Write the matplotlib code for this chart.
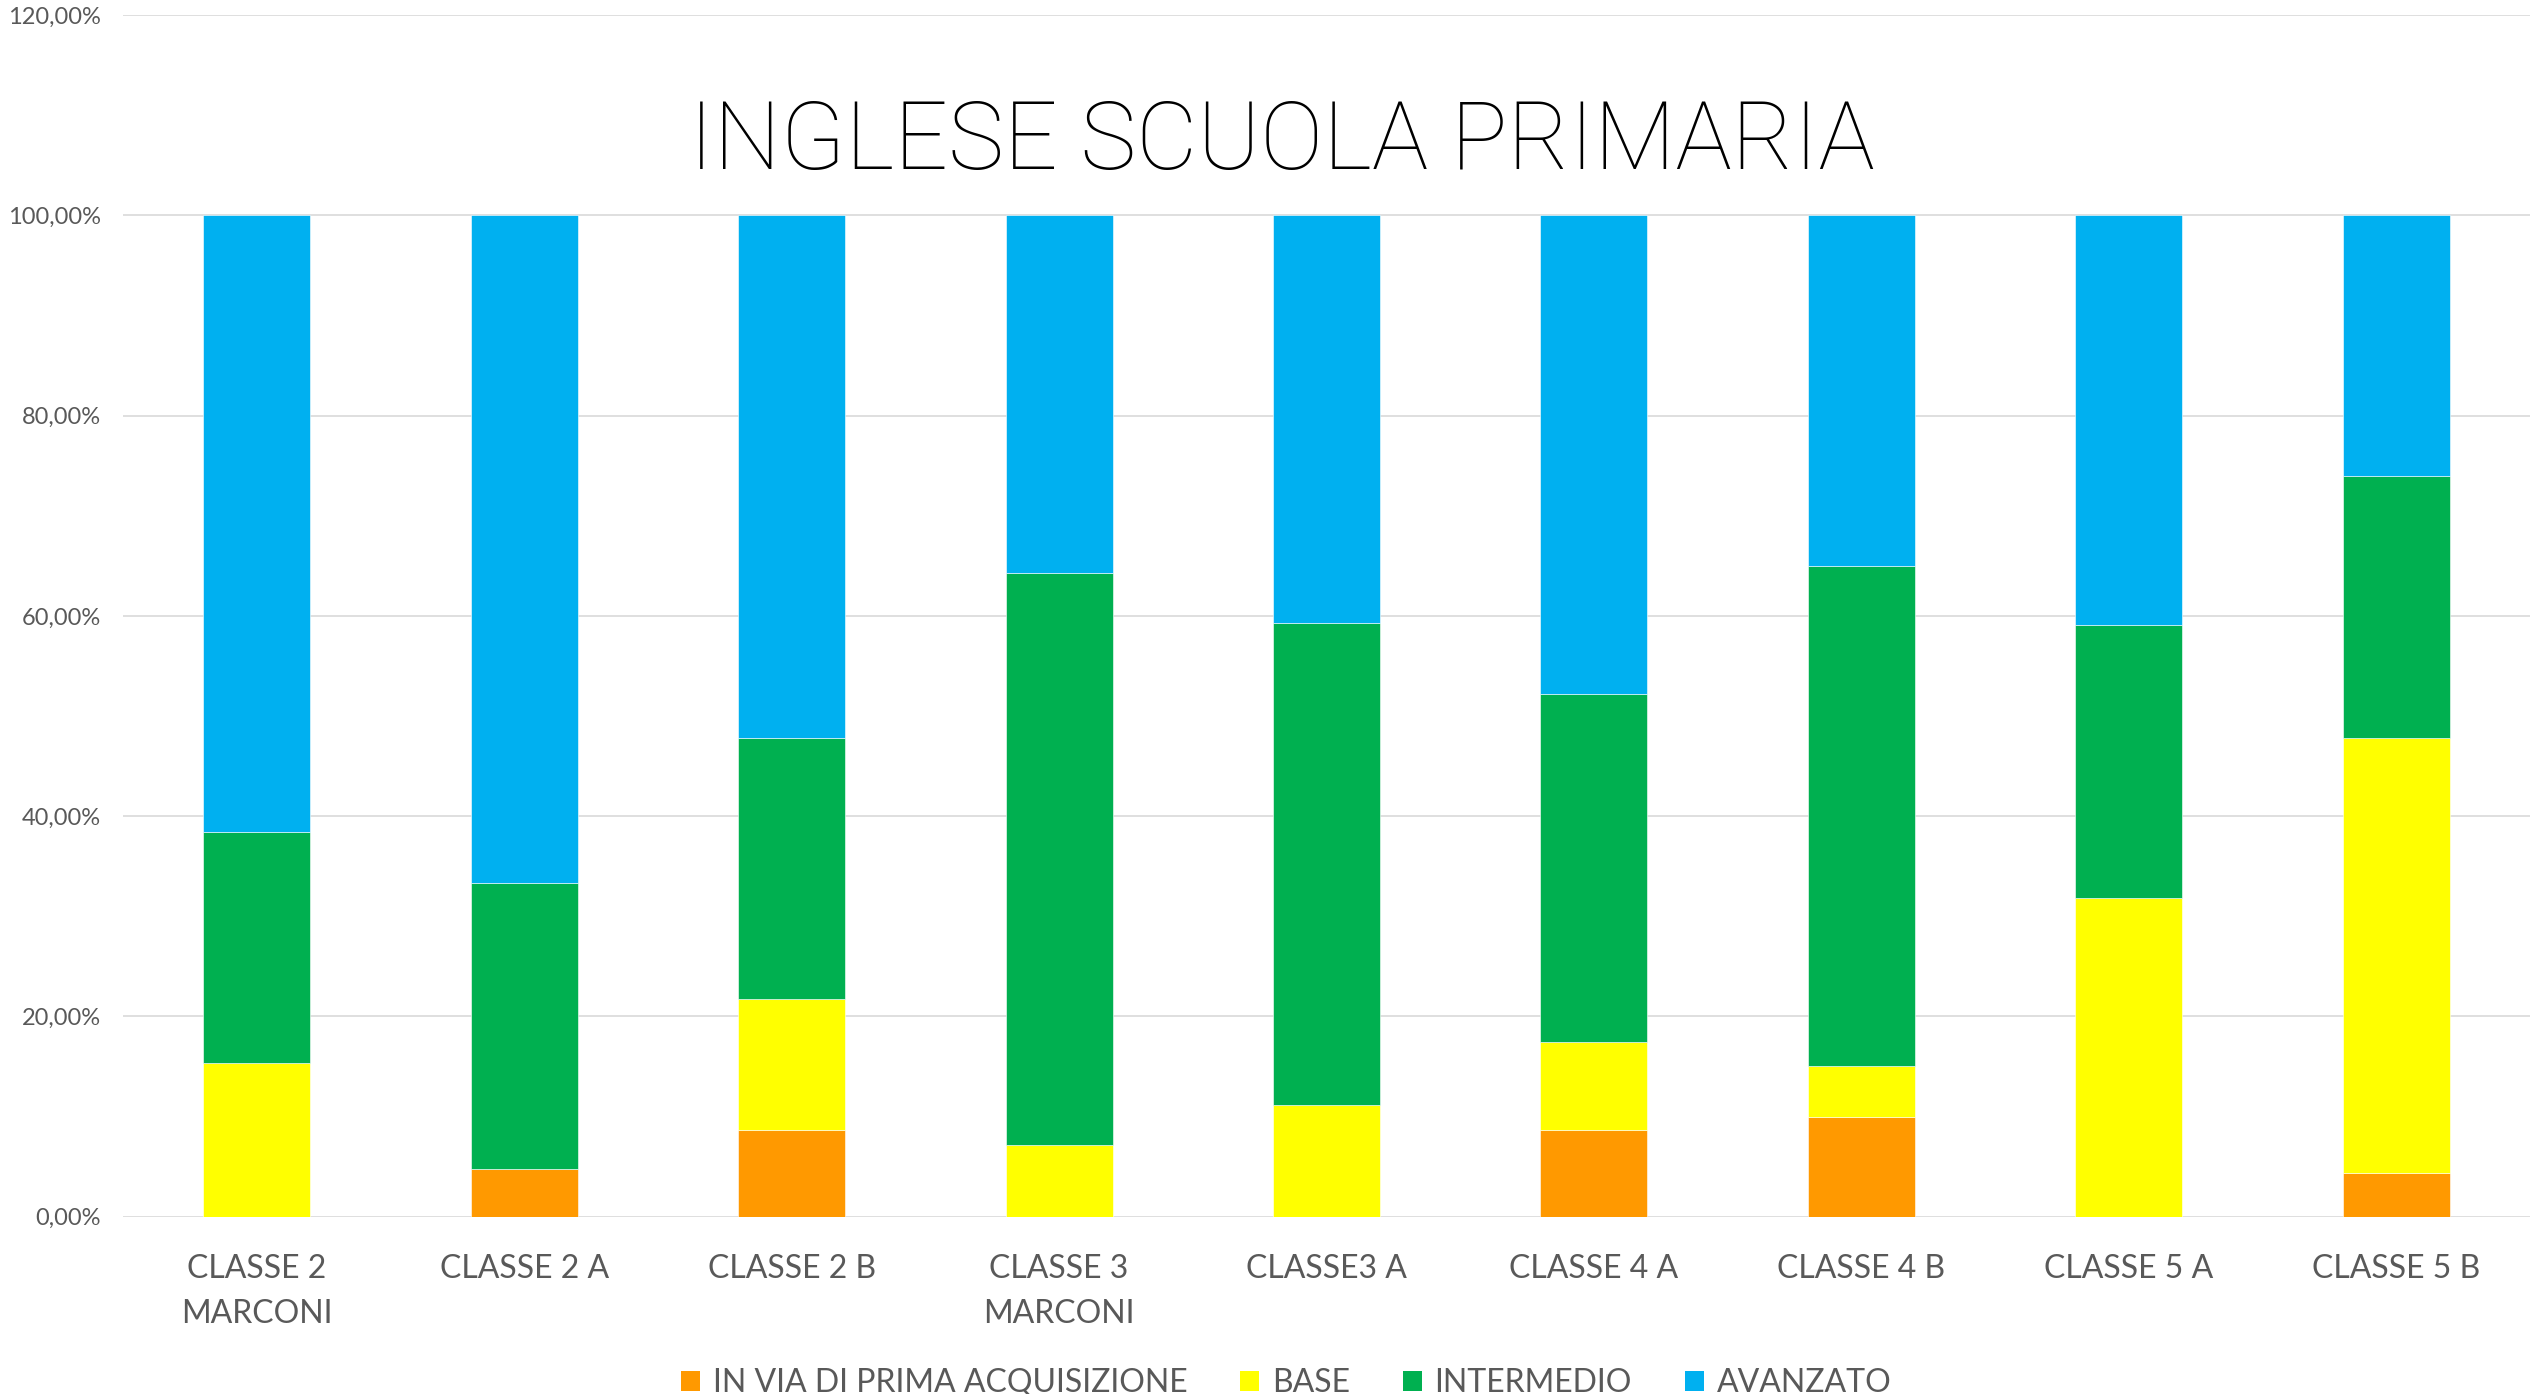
import matplotlib
matplotlib.use("Agg")
import matplotlib.pyplot as plt
from matplotlib.ticker import FuncFormatter, MultipleLocator
from matplotlib.patches import Patch

categories = ["CLASSE 2\nMARCONI", "CLASSE 2 A", "CLASSE 2 B", "CLASSE 3\nMARCONI",
              "CLASSE3 A", "CLASSE 4 A", "CLASSE 4 B", "CLASSE 5 A", "CLASSE 5 B"]
in_via = [0.00, 4.76, 8.70, 0.00, 0.00, 8.70, 10.00, 0.00, 4.35]
base = [15.38, 0.00, 13.04, 7.14, 11.11, 8.70, 5.00, 31.82, 43.48]
intermedio = [23.08, 28.57, 26.09, 57.14, 48.15, 34.78, 50.00, 27.27, 26.09]
avanzato = [61.54, 66.67, 52.17, 35.71, 40.74, 47.83, 35.00, 40.91, 26.09]

series_names = ["IN VIA DI PRIMA ACQUISIZIONE", "BASE", "INTERMEDIO", "AVANZATO"]
colors = ["#FF9900", "#FFFF00", "#00B050", "#00B0F0"]

plt.rcParams['font.family'] = ['Lato', 'DejaVu Sans']

fig = plt.figure(figsize=(25.39, 13.94), dpi=100)
ax = fig.add_axes([123/2539, 1 - 1216.7/1394, (2530-123)/2539, (1216.7-15)/1394])

x = list(range(len(categories)))
bottom = [0.0]*len(categories)
for vals, col, name in zip([in_via, base, intermedio, avanzato], colors, series_names):
    ax.bar(x, vals, width=0.4, bottom=bottom, color=col, edgecolor='white',
           linewidth=0.4, label=name, zorder=3)
    bottom = [b + v for b, v in zip(bottom, vals)]

ax.set_xlim(-0.5, len(categories) - 0.5)
ax.set_ylim(0, 120)
ax.yaxis.set_major_locator(MultipleLocator(20))
ax.yaxis.set_major_formatter(FuncFormatter(lambda v, p: f"{v:.2f}%".replace('.', ',')))
ax.grid(axis='y', color='#D9D9D9', linewidth=1.2, zorder=0)
ax.set_axisbelow(True)
for s in ax.spines.values():
    s.set_visible(False)
ax.tick_params(axis='y', length=0, pad=16, labelsize=17, labelcolor='#595959')
ax.set_xticks(x)
ax.set_xticklabels(categories, fontsize=23, color='#595959', linespacing=1.6)
ax.tick_params(axis='x', length=0, pad=27)

fig.text(1282/2539, 1 - 143/1394, "INGLESE SCUOLA PRIMARIA", ha='center', va='center',
         fontsize=68, color='black', family=['Roboto', 'DejaVu Sans'], fontweight='light')

handles = [Patch(facecolor=c, edgecolor='none') for c in colors]
fig.legend(handles, series_names, loc='center', bbox_to_anchor=(1286/2539, 1 - 1383/1394),
           ncol=4, frameon=False, fontsize=23, labelcolor='#595959',
           handlelength=0.6, handleheight=0.6, handletextpad=0.4, columnspacing=1.65)

fig.savefig("out.png", dpi=100)
